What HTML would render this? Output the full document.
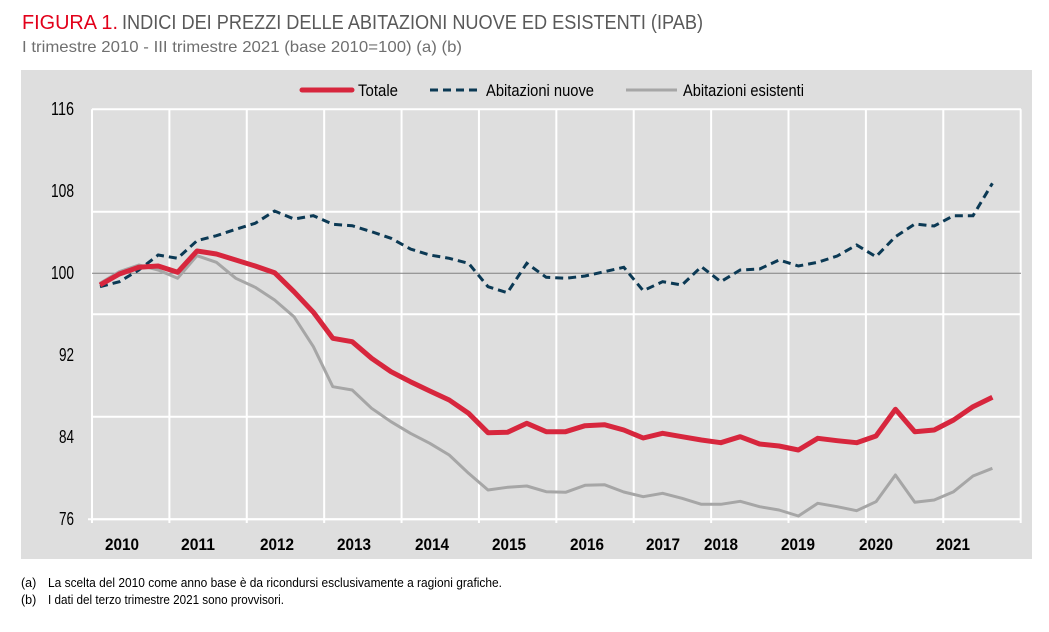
<!DOCTYPE html>
<html><head><meta charset="utf-8"><style>
html,body{margin:0;padding:0;background:#fff;}
svg{display:block;font-family:"Liberation Sans Narrow","Liberation Sans",sans-serif;}
</style></head><body>
<svg id="s" width="1049" height="632" viewBox="0 0 1049 632" xmlns="http://www.w3.org/2000/svg">
<text x="22" y="29" font-size="20" fill="#e2001a" textLength="96" lengthAdjust="spacingAndGlyphs">FIGURA 1.</text>
<text x="122" y="29" font-size="20" fill="#595959" textLength="581" lengthAdjust="spacingAndGlyphs">INDICI DEI PREZZI DELLE ABITAZIONI NUOVE ED ESISTENTI (IPAB)</text>
<text x="22" y="52" font-size="16" fill="#6f6f6f" textLength="440" lengthAdjust="spacingAndGlyphs">I trimestre 2010 - III trimestre 2021 (base 2010=100) (a) (b)</text>
<rect x="21" y="70" width="1011" height="489" fill="#dedede"/>
<g id="grid" stroke="#fff" stroke-width="2"></g>
<line x1="92" y1="273.3" x2="1021" y2="273.3" stroke="#808080" stroke-width="1"/>
<g font-size="18" fill="#000">
<text x="51" y="115" textLength="23" lengthAdjust="spacingAndGlyphs">116</text>
<text x="51" y="197" textLength="23" lengthAdjust="spacingAndGlyphs">108</text>
<text x="51" y="279" textLength="23" lengthAdjust="spacingAndGlyphs">100</text>
<text x="59" y="361" textLength="15" lengthAdjust="spacingAndGlyphs">92</text>
<text x="59" y="443" textLength="15" lengthAdjust="spacingAndGlyphs">84</text>
<text x="59" y="525" textLength="15" lengthAdjust="spacingAndGlyphs">76</text>
</g>
<g font-size="17" font-weight="bold" fill="#000">
<text x="105" y="550" textLength="34" lengthAdjust="spacingAndGlyphs">2010</text>
<text x="181" y="550" textLength="34" lengthAdjust="spacingAndGlyphs">2011</text>
<text x="260" y="550" textLength="34" lengthAdjust="spacingAndGlyphs">2012</text>
<text x="337" y="550" textLength="34" lengthAdjust="spacingAndGlyphs">2013</text>
<text x="415" y="550" textLength="34" lengthAdjust="spacingAndGlyphs">2014</text>
<text x="492" y="550" textLength="34" lengthAdjust="spacingAndGlyphs">2015</text>
<text x="570" y="550" textLength="34" lengthAdjust="spacingAndGlyphs">2016</text>
<text x="646" y="550" textLength="34" lengthAdjust="spacingAndGlyphs">2017</text>
<text x="704" y="550" textLength="34" lengthAdjust="spacingAndGlyphs">2018</text>
<text x="781" y="550" textLength="34" lengthAdjust="spacingAndGlyphs">2019</text>
<text x="859" y="550" textLength="34" lengthAdjust="spacingAndGlyphs">2020</text>
<text x="936" y="550" textLength="34" lengthAdjust="spacingAndGlyphs">2021</text>
</g>
<polyline id="gr" fill="none" stroke="#a6a6a6" stroke-width="3" stroke-linejoin="round"/>
<polyline id="bl" fill="none" stroke="#0b3954" stroke-width="3" stroke-dasharray="8,5"/>
<polyline id="rd" fill="none" stroke="#d7263d" stroke-width="5" stroke-linejoin="round"/>
<line x1="302" y1="90" x2="352" y2="90" stroke="#d7263d" stroke-width="5" stroke-linecap="round"/>
<text x="358" y="96" font-size="17" fill="#000" textLength="40" lengthAdjust="spacingAndGlyphs">Totale</text>
<line x1="430" y1="90" x2="480" y2="90" stroke="#0b3954" stroke-width="3" stroke-dasharray="8,5"/>
<text x="486" y="96" font-size="17" fill="#000" textLength="108" lengthAdjust="spacingAndGlyphs">Abitazioni nuove</text>
<line x1="626" y1="90" x2="677" y2="90" stroke="#a6a6a6" stroke-width="3"/>
<text x="683" y="96" font-size="17" fill="#000" textLength="121" lengthAdjust="spacingAndGlyphs">Abitazioni esistenti</text>
<g font-size="12.5" fill="#000">
<text x="21" y="587">(a)</text><text x="48" y="587" textLength="454" lengthAdjust="spacingAndGlyphs">La scelta del 2010 come anno base è da ricondursi esclusivamente a ragioni grafiche.</text>
<text x="21" y="604">(b)</text><text x="48" y="604" textLength="236" lengthAdjust="spacingAndGlyphs">I dati del terzo trimestre 2021 sono provvisori.</text>
</g>
</svg>
<script>
var g=document.getElementById('grid'),ns='http://www.w3.org/2000/svg';
function L(a,b,c,d){var l=document.createElementNS(ns,'line');l.setAttribute('x1',a);l.setAttribute('y1',b);l.setAttribute('x2',c);l.setAttribute('y2',d);g.appendChild(l);}
for(var k=0;k<=12;k++){var x=92+77.39*k;L(x,109.3,x,523);}
for(var j=0;j<5;j++){var y=109.3+102.5*j;L(92,y,1021,y);}
L(88,519.3,1021,519.3);
var R=[285,274,267.3,266,272.3,251,254,260,266,272.7,291.7,312.3,338.3,341.7,358.3,371.7,381.7,391,400,413.3,432.7,432.3,423.3,431.7,431.7,425.7,424.7,430,438,433.3,436.7,440,442.7,436.7,444,446,450,438.3,440.7,442.7,436,409.3,431.7,430,420,406.7,397.3];
var B=[286.7,281.7,270,255,258.3,240.7,235.7,229.3,223.3,211,219,215.7,224.3,225.7,231.7,238.3,249,255,258.3,263.3,286.7,292.7,263.3,277.3,278.3,276,271.7,267.3,290.7,281.7,285,266.7,281.7,270,269,260,266,262.3,256,245,256.7,236.7,224,226,215.7,215.7,183.3];
var G=[283.3,271.7,265,270,278.3,255.7,262.3,278.3,287.3,300,316.7,346.7,386.7,390,408.3,421.7,433.3,443.3,455,473.3,490,487.3,486,491.7,492.3,485.3,484.7,492,496.7,493.3,498.3,504.3,504.3,501.3,506.7,510,516,503.3,506.7,510.7,501.7,475,502.3,500,491.7,476,468.3];
function P(id,a){document.getElementById(id).setAttribute('points',a.map(function(v,i){return (100+19.4*i).toFixed(1)+','+v;}).join(' '));}
P('rd',R);P('bl',B);P('gr',G);
</script>
</body></html>
